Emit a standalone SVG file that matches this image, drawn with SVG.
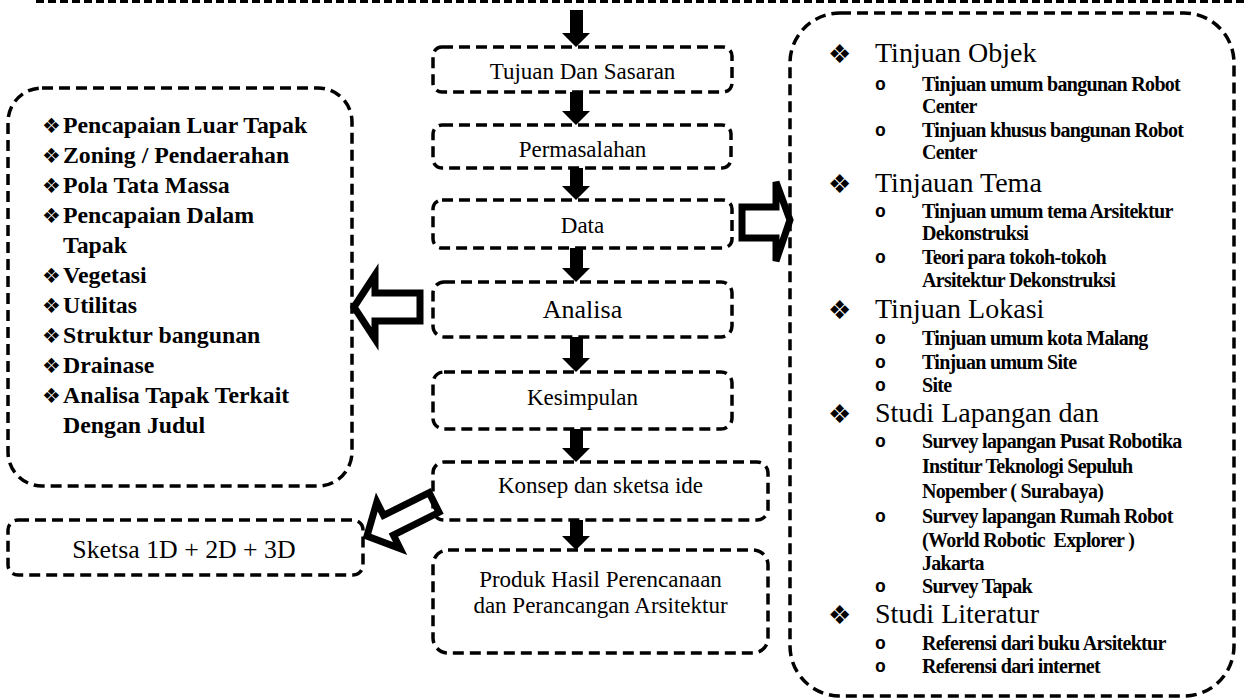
<svg xmlns="http://www.w3.org/2000/svg" width="1244" height="700" viewBox="0 0 1244 700">
<style>
.bg{fill:#fff}
.box{fill:none;stroke:#000;stroke-width:3.5;stroke-dasharray:11 6}
.topline{fill:none;stroke:#000;stroke-width:3;stroke-dasharray:8 4}
.t{font-family:"Liberation Serif","Times New Roman",serif;fill:#000}
.c{text-anchor:middle;font-size:23px}
.lb{font-size:23.8px;font-weight:bold}
.h{font-size:28px}
.s{font-size:20px;font-weight:bold;letter-spacing:-0.7px}
.bul{font-family:"DejaVu Sans",sans-serif;fill:#000;font-size:21px}
.hb{font-family:"DejaVu Sans",sans-serif;fill:#000;font-size:26px}
.ob{font-family:"Liberation Mono","Courier New",monospace;font-weight:bold;font-size:18px;fill:#000}
.hollow{fill:#fff;stroke:#000;stroke-width:7;stroke-linejoin:miter}
.down{fill:#000}
</style>
<rect class="bg" x="0" y="0" width="1244" height="700"/>
<line class="topline" x1="36" y1="1.5" x2="1244" y2="1.5"/>

<g id="connectors">
  <polygon class="down" points="570,10 583,10 583,33 590,33 576,47 562,33 570,33"/>
  <polygon class="down" points="570,92 583,92 583,111 590,111 576,125 562,111 570,111"/>
  <polygon class="down" points="570,168 583,168 583,186 590,186 576,200 562,186 570,186"/>
  <polygon class="down" points="570,248 583,248 583,268 590,268 576,282 562,268 570,268"/>
  <polygon class="down" points="570,337 583,337 583,358 590,358 576,372 562,358 570,358"/>
  <polygon class="down" points="570,429 583,429 583,448 590,448 576,462 562,448 570,448"/>
  <polygon class="down" points="570,520 583,520 583,536 590,536 576,550 562,536 570,536"/>
  <polygon class="hollow" points="742,207 776,207 776,182 790,220 776,261 776,238 742,238"/>
  <polygon class="hollow" points="354,307 375,275 375,293 420,293 420,321 375,321 375,339"/>
  <polygon class="hollow" transform="translate(367,536) rotate(-26.57)" points="0,0 24,-26 24,-11 75,-11 75,11 24,11 24,26"/>
</g>

<g id="n-tujuan">
  <rect class="box" x="433" y="47" width="299" height="45" rx="9"/>
  <text class="t c" x="582.5" y="79">Tujuan Dan Sasaran</text>
</g>
<g id="n-permasalahan">
  <rect class="box" x="433" y="125" width="298" height="43" rx="9"/>
  <text class="t c" x="582.5" y="157">Permasalahan</text>
</g>
<g id="n-data">
  <rect class="box" x="433" y="200" width="299" height="48" rx="9"/>
  <text class="t c" x="582.5" y="233">Data</text>
</g>
<g id="n-analisa">
  <rect class="box" x="433" y="282" width="299" height="55" rx="11"/>
  <text class="t" x="582.5" y="318" text-anchor="middle" font-size="26">Analisa</text>
</g>
<g id="n-kesimpulan">
  <rect class="box" x="433" y="372" width="299" height="57" rx="11"/>
  <text class="t c" x="582.5" y="405">Kesimpulan</text>
</g>
<g id="n-konsep">
  <rect class="box" x="433" y="462" width="335" height="58" rx="11"/>
  <text class="t c" x="600.5" y="493">Konsep dan sketsa ide</text>
</g>
<g id="n-produk">
  <rect class="box" x="433" y="550" width="335" height="103" rx="15"/>
  <text class="t c" x="600.5" y="587">Produk Hasil Perencanaan</text>
  <text class="t c" x="600.5" y="613">dan Perancangan Arsitektur</text>
</g>
<g id="n-sketsa">
  <rect class="box" x="8" y="520" width="355" height="55" rx="10"/>
  <text class="t" x="184" y="558" text-anchor="middle" font-size="25.8">Sketsa 1D + 2D + 3D</text>
</g>

<g id="n-analisis-list">
  <rect class="box" x="8" y="88" width="344" height="398" rx="34"/>
  <text class="bul" x="42" y="133">❖</text><text class="t lb" x="63" y="133">Pencapaian Luar Tapak</text>
  <text class="bul" x="42" y="163">❖</text><text class="t lb" x="63" y="163">Zoning / Pendaerahan</text>
  <text class="bul" x="42" y="193">❖</text><text class="t lb" x="63" y="193">Pola Tata Massa</text>
  <text class="bul" x="42" y="223">❖</text><text class="t lb" x="63" y="223">Pencapaian Dalam</text>
  <text class="t lb" x="63" y="253">Tapak</text>
  <text class="bul" x="42" y="283">❖</text><text class="t lb" x="63" y="283">Vegetasi</text>
  <text class="bul" x="42" y="313">❖</text><text class="t lb" x="63" y="313">Utilitas</text>
  <text class="bul" x="42" y="343">❖</text><text class="t lb" x="63" y="343">Struktur bangunan</text>
  <text class="bul" x="42" y="373">❖</text><text class="t lb" x="63" y="373">Drainase</text>
  <text class="bul" x="42" y="403">❖</text><text class="t lb" x="63" y="403">Analisa Tapak Terkait</text>
  <text class="t lb" x="63" y="433">Dengan Judul</text>
</g>

<g id="n-data-list">
  <rect class="box" x="790" y="13" width="444" height="683" rx="50"/>
  <text class="hb" x="828" y="63">❖</text><text class="t h" x="875" y="62">Tinjuan Objek</text>
  <text class="ob" x="875" y="90">o</text><text class="t s" x="922" y="91">Tinjuan umum bangunan Robot</text>
  <text class="t s" x="922" y="113">Center</text>
  <text class="ob" x="875" y="136">o</text><text class="t s" x="922" y="137">Tinjuan khusus bangunan Robot</text>
  <text class="t s" x="922" y="159">Center</text>
  <text class="hb" x="828" y="193">❖</text><text class="t h" x="875" y="192">Tinjauan Tema</text>
  <text class="ob" x="875" y="217">o</text><text class="t s" x="922" y="218">Tinjuan umum tema Arsitektur</text>
  <text class="t s" x="922" y="240">Dekonstruksi</text>
  <text class="ob" x="875" y="263">o</text><text class="t s" x="922" y="264">Teori para tokoh-tokoh</text>
  <text class="t s" x="922" y="287">Arsitektur Dekonstruksi</text>
  <text class="hb" x="828" y="319">❖</text><text class="t h" x="875" y="318">Tinjuan Lokasi</text>
  <text class="ob" x="875" y="344">o</text><text class="t s" x="922" y="345">Tinjuan umum kota Malang</text>
  <text class="ob" x="875" y="368">o</text><text class="t s" x="922" y="369">Tinjuan umum Site</text>
  <text class="ob" x="875" y="391">o</text><text class="t s" x="922" y="392">Site</text>
  <text class="hb" x="828" y="423">❖</text><text class="t h" x="875" y="422">Studi Lapangan dan</text>
  <text class="ob" x="875" y="447">o</text><text class="t s" x="922" y="448">Survey lapangan Pusat Robotika</text>
  <text class="t s" x="922" y="473">Institur Teknologi Sepuluh</text>
  <text class="t s" x="922" y="498">Nopember ( Surabaya)</text>
  <text class="ob" x="875" y="522">o</text><text class="t s" x="922" y="523">Survey lapangan Rumah Robot</text>
  <text class="t s" x="922" y="547" xml:space="preserve">(World Robotic  Explorer )</text>
  <text class="t s" x="922" y="570">Jakarta</text>
  <text class="ob" x="875" y="592">o</text><text class="t s" x="922" y="593">Survey Tapak</text>
  <text class="hb" x="828" y="624">❖</text><text class="t h" x="875" y="623">Studi Literatur</text>
  <text class="ob" x="875" y="649">o</text><text class="t s" x="922" y="650">Referensi dari buku Arsitektur</text>
  <text class="ob" x="875" y="672">o</text><text class="t s" x="922" y="673">Referensi dari internet</text>
</g>
</svg>
